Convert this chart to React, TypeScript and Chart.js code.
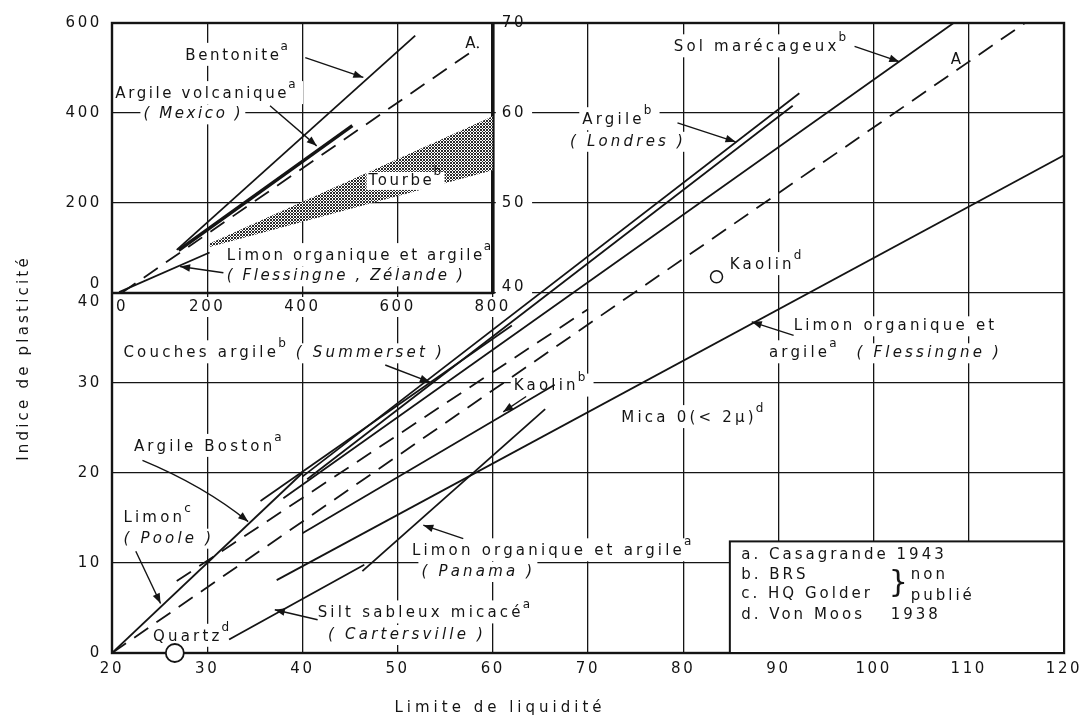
import React, { useEffect, useRef } from "react";
import { Chart, registerables } from "chart.js";

Chart.register(...registerables);

type Pt = [number, number];

// ---------- ticks ----------
const xTickValues = [20, 30, 40, 50, 60, 70, 80, 90, 100, 110, 120];
const insetXTicks = [0, 200, 400, 600, 800];
const rightYTicks = [40, 50, 60, 70];

// ---------- main chart: limite de liquidité (x) / indice de plasticité (y) ----------
const ligneA: Pt[] = [[20, 0], [115.9, 70]];
const ligneTiret: Pt[] = [[26.8, 8.0], [70, 38.2]];
const limonPoole: Pt[] = [[20, 0], [40, 20]];
const solMarecageux: Pt[] = [[38, 17.2], [108.4, 70]];
const argileLondres1: Pt[] = [[40, 19.6], [92.2, 62.2]];
const argileLondres2: Pt[] = [[40.5, 19.3], [91.5, 60.8]];
const couchesSummerset: Pt[] = [[35.6, 16.9], [62, 36.4]];
const kaolinBRS: Pt[] = [[40, 13.3], [66.5, 29.8]];
const limonPanama: Pt[] = [[46.3, 9.1], [65.5, 27.1]];
const siltCartersville: Pt[] = [[32.3, 1.5], [46.5, 9.8]];
const limonFlessingne: Pt[] = [[37.3, 8.1], [120, 55.3]];
const quartzPoint: Pt[] = [[26.6, 0]];
const kaolinVonMoos: Pt[] = [[83.5, 41.8]];

// ---------- inset: x 0–800, y 0–600 ----------
const insetA: Pt[] = [[20, 0], [770, 547]];
const bentonite: Pt[] = [[136, 96], [637, 572]];
const argileMexico: Pt[] = [[140, 95], [505, 372]];
const limonZelande: Pt[] = [[15, 2], [205, 90]];
const tourbeHaut: Pt[] = [[205, 110], [800, 393]];
const tourbeBas: Pt[] = [[205, 102], [800, 273]];

const INK = "#141414";
const FONT = '"DejaVu Sans", sans-serif';
const SPACING_MAIN = "3.2px";
const SPACING_INSET = "2.6px";

type Lbl = { t: string; x: number; y: number; s?: "m" | "i"; sup?: string; it?: boolean; late?: boolean };
const labels: Lbl[] = [
  { t: "Sol marécageux", sup: "b", x: 79.0, y: 67.3 },
  { t: "A", x: 108.1, y: 65.9 },
  { t: "Argile", sup: "b", x: 69.4, y: 59.2 },
  { t: "( Londres )", it: true, x: 68.1, y: 56.8 },
  { t: "Kaolin", sup: "d", x: 84.9, y: 43.1 },
  { t: "Couches argile", sup: "b", x: 21.2, y: 33.3 },
  { t: "( Summerset )", it: true, x: 39.3, y: 33.3 },
  { t: "Kaolin", sup: "b", x: 62.2, y: 29.6 },
  { t: "Limon organique et", x: 91.6, y: 36.3 },
  { t: "argile", sup: "a", x: 89.0, y: 33.3 },
  { t: "( Flessingne )", it: true, x: 98.2, y: 33.3 },
  { t: "Mica 0(< 2µ)", sup: "d", x: 73.5, y: 26.1 },
  { t: "Argile Boston", sup: "a", x: 22.3, y: 22.9 },
  { t: "Limon", sup: "c", x: 21.2, y: 15.0 },
  { t: "( Poole )", it: true, x: 21.2, y: 12.7 },
  { t: "Quartz", sup: "d", x: 24.3, y: 1.8 },
  { t: "Silt sableux micacé", sup: "a", x: 41.6, y: 4.4 },
  { t: "( Cartersville )", it: true, x: 42.7, y: 2.0 },
  { t: "Limon organique et argile", sup: "a", x: 51.5, y: 11.3 },
  { t: "( Panama )", it: true, x: 52.5, y: 9.0 },
  { t: "Bentonite", sup: "a", s: "i", x: 154, y: 527 },
  { t: "A", s: "i", x: 742, y: 553 },
  { t: "Argile volcanique", sup: "a", s: "i", x: 7, y: 442 },
  { t: "( Mexico )", it: true, s: "i", x: 66, y: 397 },
  { t: "Tourbe", sup: "b", s: "i", x: 539, y: 249, late: true },
  { t: "Limon organique et argile", sup: "a", s: "i", x: 241, y: 82 },
  { t: "( Flessingne , Zélande )", it: true, s: "i", x: 241, y: 37 },
];

type Arr = { s: "m" | "i"; from: Pt; to: Pt; via?: Pt };
const arrows: Arr[] = [
  { s: "m", from: [98.0, 67.4], to: [102.7, 65.7] },
  { s: "m", from: [79.4, 58.9], to: [85.5, 56.8] },
  { s: "m", from: [48.7, 32.0], to: [53.4, 30.1] },
  { s: "m", from: [63.5, 28.5], to: [61.1, 26.8] },
  { s: "m", from: [91.6, 35.3], to: [87.2, 36.8] },
  { s: "m", from: [23.2, 21.4], to: [34.3, 14.6], via: [29.6, 18.6] },
  { s: "m", from: [22.5, 11.3], to: [25.1, 5.5] },
  { s: "m", from: [41.6, 3.7], to: [37.1, 4.8] },
  { s: "m", from: [56.9, 12.7], to: [52.7, 14.2] },
  { s: "i", from: [406, 523], to: [528, 479] },
  { s: "i", from: [332, 416], to: [430, 327] },
  { s: "i", from: [234, 45], to: [143, 59] },
];

const legendBox: Pt[] = [[84.9, 12.4], [120, 0]];
const legendLines: Lbl[] = [
  { t: "a. Casagrande 1943", x: 86.1, y: 10.9 },
  { t: "b. BRS", x: 86.1, y: 8.7 },
  { t: "c. HQ Golder", x: 86.1, y: 6.5 },
  { t: "d. Von Moos", x: 86.1, y: 4.2 },
  { t: "1938", x: 101.8, y: 4.2 },
  { t: "non", x: 103.9, y: 8.7 },
  { t: "publié", x: 103.9, y: 6.3 },
];

function toPx(chart: any, s: "m" | "i", p: Pt): Pt {
  const xs = chart.scales[s === "i" ? "xi" : "x"];
  const ys = chart.scales[s === "i" ? "yi" : "y"];
  return [xs.getPixelForValue(p[0]), ys.getPixelForValue(p[1])];
}

function labelBox(ctx: CanvasRenderingContext2D, L: Lbl) {
  ctx.letterSpacing = L.s === "i" ? SPACING_INSET : SPACING_MAIN;
  ctx.font = `${L.it ? "italic " : ""}15px ${FONT}`;
  const w = ctx.measureText(L.t).width;
  ctx.font = `12px ${FONT}`;
  const sw = L.sup ? ctx.measureText(L.sup).width + 2 : 0;
  return { w, sw };
}

function drawLabelBg(chart: any, L: Lbl) {
  const ctx = chart.ctx as CanvasRenderingContext2D;
  const [px, py] = toPx(chart, L.s || "m", [L.x, L.y]);
  const { w, sw } = labelBox(ctx, L);
  ctx.fillStyle = "#fff";
  if (L.late) {
    ctx.fillRect(px - 2, py - 9, w + sw, 18);
  } else {
    ctx.fillRect(px - 3, py - (L.sup ? 13 : 10), w + sw + 5, L.sup ? 23 : 20);
  }
}

function drawLabelText(chart: any, L: Lbl) {
  const ctx = chart.ctx as CanvasRenderingContext2D;
  const [px, py] = toPx(chart, L.s || "m", [L.x, L.y]);
  const { w } = labelBox(ctx, L);
  ctx.fillStyle = INK;
  ctx.textBaseline = "middle";
  ctx.textAlign = "left";
  ctx.font = `${L.it ? "italic " : ""}15px ${FONT}`;
  ctx.fillText(L.t, px, py);
  if (L.sup) {
    ctx.font = `12px ${FONT}`;
    ctx.fillText(L.sup, px + w - 1, py - 9);
  }
}

function drawArrow(chart: any, a: Arr) {
  const ctx = chart.ctx as CanvasRenderingContext2D;
  const f = toPx(chart, a.s, a.from);
  const t = toPx(chart, a.s, a.to);
  ctx.strokeStyle = INK;
  ctx.fillStyle = INK;
  ctx.lineWidth = 1.4;
  ctx.beginPath();
  ctx.moveTo(f[0], f[1]);
  let base = f;
  if (a.via) {
    const v = toPx(chart, a.s, a.via);
    ctx.quadraticCurveTo(v[0], v[1], t[0], t[1]);
    base = v;
  } else {
    ctx.lineTo(t[0], t[1]);
  }
  ctx.stroke();
  const ang = Math.atan2(t[1] - base[1], t[0] - base[0]);
  const L = 10, W = 3.8;
  ctx.beginPath();
  ctx.moveTo(t[0], t[1]);
  ctx.lineTo(t[0] - L * Math.cos(ang) + W * Math.sin(ang), t[1] - L * Math.sin(ang) - W * Math.cos(ang));
  ctx.lineTo(t[0] - L * Math.cos(ang) - W * Math.sin(ang), t[1] - L * Math.sin(ang) + W * Math.cos(ang));
  ctx.closePath();
  ctx.fill();
}

const decor = {
  id: "decor",
  beforeDraw(chart: any) {
    chart.ctx.letterSpacing = "2.6px";
  },
  beforeDatasetsDraw(chart: any) {
    const ctx = chart.ctx as CanvasRenderingContext2D;
    ctx.save();
    labels.filter((l) => !l.late).forEach((l) => drawLabelBg(chart, l));
    // right-hand tick labels (40..70) and inset x tick labels: white backgrounds
    ctx.letterSpacing = "2.6px";
    ctx.font = `15px ${FONT}`;
    rightYTicks.forEach((v) => {
      const [px, py] = toPx(chart, "m", [60, v]);
      const w = ctx.measureText(String(v)).width;
      ctx.fillStyle = "#fff";
      ctx.fillRect(px + 3, py - (v === 40 ? 16 : 10), w + 12, 20);
    });
    insetXTicks.forEach((v) => {
      const [px, py] = toPx(chart, "i", [v, 0]);
      const w = ctx.measureText(String(v)).width;
      const cx = v === 0 ? px + 10 : px;
      ctx.fillStyle = "#fff";
      ctx.fillRect(cx - w / 2 - 3, py + 4, w + 6, 20);
    });
    // outer frame
    const a = chart.chartArea;
    ctx.strokeStyle = INK;
    ctx.lineWidth = 2.4;
    ctx.strokeRect(a.left, a.top, a.right - a.left, a.bottom - a.top);
    // inset frame
    const p0 = toPx(chart, "m", [20, 40]);
    const p1 = toPx(chart, "m", [60, 40]);
    const p2 = toPx(chart, "m", [60, 70]);
    ctx.lineWidth = 2.6;
    ctx.beginPath();
    ctx.moveTo(p0[0], p0[1]);
    ctx.lineTo(p1[0], p1[1]);
    ctx.stroke();
    ctx.lineWidth = 3.6;
    ctx.beginPath();
    ctx.moveTo(p1[0], p1[1] + 1);
    ctx.lineTo(p2[0], p2[1]);
    ctx.stroke();
    ctx.restore();
  },
  afterDatasetsDraw(chart: any) {
    const ctx = chart.ctx as CanvasRenderingContext2D;
    ctx.save();
    labels.filter((l) => l.late).forEach((l) => drawLabelBg(chart, l));
    labels.forEach((l) => drawLabelText(chart, l));
    arrows.forEach((a) => drawArrow(chart, a));

    // right-hand main y labels
    ctx.font = `15px ${FONT}`;
    ctx.letterSpacing = "2.6px";
    ctx.fillStyle = INK;
    ctx.textBaseline = "middle";
    ctx.textAlign = "left";
    rightYTicks.forEach((v) => {
      const [px, py] = toPx(chart, "m", [60, v]);
      ctx.fillText(String(v), px + 9, v === 40 ? py - 6 : py);
    });
    // inset x labels
    ctx.textAlign = "center";
    insetXTicks.forEach((v) => {
      const [px, py] = toPx(chart, "i", [v, 0]);
      ctx.fillText(String(v), v === 0 ? px + 10 : px, py + 14);
    });

    // legend box
    const b0 = toPx(chart, "m", legendBox[0]);
    const b1 = toPx(chart, "m", legendBox[1]);
    ctx.fillStyle = "#fff";
    ctx.fillRect(b0[0], b0[1], b1[0] - b0[0], b1[1] - b0[1]);
    ctx.strokeStyle = INK;
    ctx.lineWidth = 2;
    ctx.strokeRect(b0[0], b0[1], b1[0] - b0[0], b1[1] - b0[1]);
    ctx.fillStyle = INK;
    ctx.textAlign = "left";
    ctx.font = `15px ${FONT}`;
    ctx.letterSpacing = "3px";
    legendLines.forEach((l) => {
      const [px, py] = toPx(chart, "m", [l.x, l.y]);
      ctx.fillText(l.t, px, py);
    });
    const br = toPx(chart, "m", [102.0, 7.6]);
    ctx.font = `30px ${FONT}`;
    ctx.letterSpacing = "0px";
    ctx.fillText("}", br[0] - 4, br[1]);

    // axis titles
    ctx.font = `15px ${FONT}`;
    ctx.letterSpacing = "4px";
    ctx.textAlign = "center";
    ctx.fillText("Limite de liquidité", 500, 708);
    ctx.translate(24, 358);
    ctx.rotate(-Math.PI / 2);
    ctx.letterSpacing = "3.2px";
    ctx.fillText("Indice de plasticité", 0, 0);
    ctx.restore();
  },
};

function makePattern(): CanvasPattern | string {
  const c = document.createElement("canvas");
  c.width = 3;
  c.height = 3;
  const g = c.getContext("2d");
  if (!g) return "#777";
  g.fillStyle = "#ffffff";
  g.fillRect(0, 0, 3, 3);
  g.fillStyle = "#2a2a2a";
  g.fillRect(0, 0, 2, 2);
  g.fillRect(2, 2, 1, 1);
  const p = g.createPattern(c, "repeat");
  return p || "#777";
}

const pts = (d: Pt[]) => d.map(([x, y]) => ({ x, y }));

function line(d: Pt[], extra: any = {}) {
  return {
    data: pts(d),
    borderColor: INK,
    borderWidth: 1.8,
    pointRadius: 0,
    fill: false,
    tension: 0,
    ...extra,
  };
}

export default function App() {
  const ref = useRef<HTMLCanvasElement>(null);
  useEffect(() => {
    const canvas = ref.current;
    if (!canvas) return;
    const pattern = makePattern();
    const inset = { xAxisID: "xi", yAxisID: "yi" };
    const dashed = { borderDash: [17, 10] };
    const gridStyle = { color: INK, lineWidth: 1.3, drawTicks: false };
    const chart = new Chart(canvas, {
      type: "line",
      data: {
        datasets: [
          line(quartzPoint, { showLine: false, pointRadius: 9, pointBackgroundColor: "#fff", pointBorderColor: INK, pointBorderWidth: 1.8, clip: false }),
          line(kaolinVonMoos, { showLine: false, pointRadius: 6, pointBackgroundColor: "#fff", pointBorderColor: INK, pointBorderWidth: 1.5 }),
          line(ligneA, dashed),
          line(ligneTiret, dashed),
          line(limonPoole),
          line(solMarecageux),
          line(argileLondres1),
          line(argileLondres2),
          line(couchesSummerset),
          line(kaolinBRS),
          line(limonPanama),
          line(siltCartersville),
          line(limonFlessingne),
          line(insetA, { ...inset, ...dashed }),
          line(bentonite, inset),
          line(argileMexico, { ...inset, borderWidth: 3.4 }),
          line(limonZelande, inset),
          line(tourbeHaut, { ...inset, borderColor: "rgba(0,0,0,0)", fill: "+1", backgroundColor: pattern }),
          line(tourbeBas, { ...inset, borderColor: "rgba(0,0,0,0)" }),
        ],
      } as any,
      options: {
        animation: false,
        responsive: false,
        devicePixelRatio: 1,
        layout: { padding: { top: 23, right: 22, left: 0, bottom: 0 } },
        plugins: { legend: { display: false }, tooltip: { enabled: false } },
        font: { family: FONT },
        scales: {
          x: {
            type: "linear",
            min: 20,
            max: 120,
            afterFit: (s: any) => { s.height = 63; },
            afterBuildTicks: (s: any) => { s.ticks = xTickValues.map((v) => ({ value: v })); },
            ticks: { padding: 7, color: INK, font: { size: 15, family: FONT }, autoSkip: false, maxRotation: 0 },
            grid: gridStyle,
            border: { display: false },
          },
          y: {
            type: "linear",
            min: 0,
            max: 70,
            afterFit: (s: any) => { s.width = 112; },
            ticks: {
              stepSize: 10,
              padding: 10,
              color: INK,
              font: { size: 15, family: FONT },
              autoSkip: false,
              callback: (v: any) => (v === 40 ? ["0", "40"] : v > 40 ? String((v - 40) * 20) : String(v)),
            },
            grid: gridStyle,
            border: { display: false },
          },
          xi: { type: "linear", axis: "x", display: false, min: 0, max: 2000 },
          yi: { type: "linear", axis: "y", display: false, min: -800, max: 600 },
        },
      } as any,
      plugins: [decor],
    });
    return () => chart.destroy();
  }, []);
  return (
    <div style={{ position: "fixed", left: 0, top: 0, width: 1086, height: 716, background: "#fff" }}>
      <canvas ref={ref} width={1086} height={716} style={{ display: "block", width: 1086, height: 716 }} />
    </div>
  );
}
